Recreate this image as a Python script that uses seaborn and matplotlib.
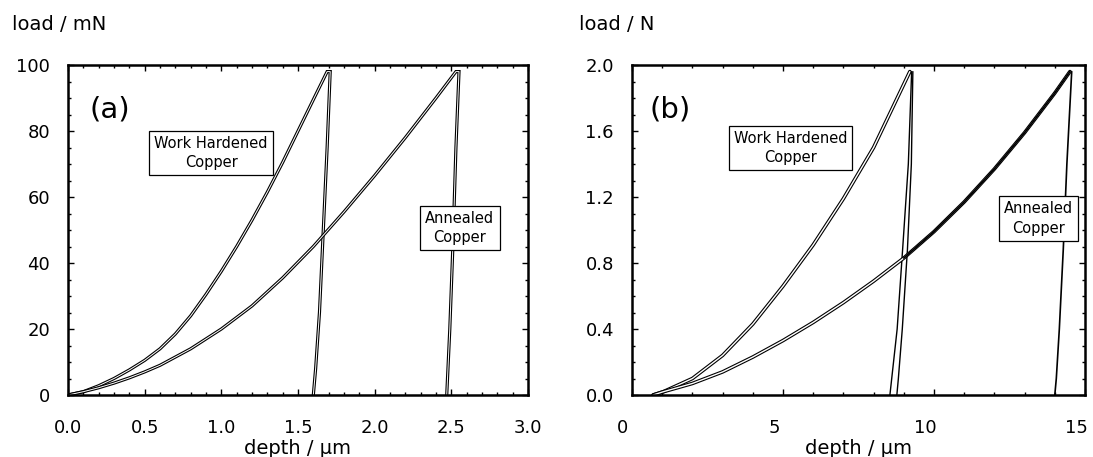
import matplotlib
matplotlib.use("Agg")
import matplotlib.pyplot as plt
import matplotlib.transforms as mtransforms
from matplotlib.ticker import MultipleLocator, FormatStrFormatter
import numpy as np
import pandas as pd
import seaborn as sns

# ---- data ----
# (a) micro indentation, load in mN, depth in um
wh_a_load_x = [0.0, 0.1, 0.2, 0.3, 0.4, 0.5, 0.6, 0.7, 0.8, 0.9, 1.0, 1.1, 1.2, 1.3, 1.4, 1.5, 1.6, 1.69]
wh_a_load_y = [0, 1.0, 2.8, 5.0, 7.6, 10.5, 14, 18.5, 24, 30.5, 37.5, 45, 53, 61.5, 70.5, 80, 89.5, 98]
wh_a_unload_x = [1.71, 1.69, 1.665, 1.64, 1.615, 1.60]
wh_a_unload_y = [98, 75, 50, 25, 8, 0]

an_a_load_x = [0.0, 0.1, 0.2, 0.3, 0.4, 0.5, 0.6, 0.8, 1.0, 1.2, 1.4, 1.6, 1.8, 2.0, 2.2, 2.4, 2.53]
an_a_load_y = [0, 1.0, 2.2, 3.6, 5.2, 7.0, 9.0, 14, 20, 27, 35.5, 45, 55.5, 66.5, 78, 90, 98]
an_a_unload_x = [2.55, 2.53, 2.51, 2.49, 2.475, 2.47]
an_a_unload_y = [98, 75, 45, 20, 5, 0]

# (b) macro indentation, load in N, depth in um
wh_b_load_x = [0.7, 1.04, 2.0, 3.0, 4.0, 5.0, 6.0, 7.0, 8.0, 9.2]
wh_b_load_y = [0, 0.02, 0.10, 0.24, 0.43, 0.66, 0.91, 1.19, 1.50, 1.96]
wh_b_unload1_x = [9.26, 9.15, 8.96, 8.78, 8.6, 8.54]
wh_b_unload1_y = [1.96, 1.4, 0.88, 0.4, 0.1, 0]
wh_b_unload2_x = [9.3, 9.25, 9.12, 8.95, 8.82, 8.77]
wh_b_unload2_y = [1.96, 1.4, 0.88, 0.4, 0.1, 0]

an_b_load_x = [0.7, 1.04, 2.0, 3.0, 4.0, 5.0, 6.0, 7.0, 8.0, 9.0, 10.0, 11.0, 12.0, 13.0, 14.0, 14.5]
an_b_load_y = [0, 0.02, 0.07, 0.14, 0.23, 0.33, 0.44, 0.56, 0.69, 0.83, 0.99, 1.17, 1.37, 1.59, 1.83, 1.96]
an_b_unload_x = [14.56, 14.4, 14.28, 14.15, 14.05, 14.0]
an_b_unload_y = [1.96, 1.4, 0.88, 0.4, 0.1, 0]

sns.set_style("ticks")
plt.rcParams['font.family'] = ['DejaVu Sans']
plt.rcParams['text.color'] = 'black'
plt.rcParams['axes.labelcolor'] = 'black'
plt.rcParams['xtick.color'] = 'black'
plt.rcParams['ytick.color'] = 'black'
plt.rcParams['axes.edgecolor'] = 'black'


def path_df(x, y):
    return pd.DataFrame({'depth': x, 'load': y, 'order': np.arange(len(x))})


def hollow(ax, x, y, outer=2.3, inner=0.7):
    # double-line look of the scanned curves
    df = path_df(x, y)
    sns.lineplot(data=df, x='depth', y='load', sort=False, estimator=None,
                 color='black', lw=outer, ax=ax, solid_joinstyle='miter')
    sns.lineplot(data=df, x='depth', y='load', sort=False, estimator=None,
                 color='white', lw=inner, ax=ax)


def solid(ax, x, y, lw=1.2):
    sns.lineplot(data=path_df(x, y), x='depth', y='load', sort=False,
                 estimator=None, color='black', lw=lw, ax=ax)


def style_axes(ax, xmaj, xmin, ymaj, ymin, xfmt, yfmt):
    for s in ax.spines.values():
        s.set_linewidth(1.8)
        s.set_visible(True)
        s.set_color('black')
    ax.xaxis.set_major_locator(MultipleLocator(xmaj))
    ax.xaxis.set_minor_locator(MultipleLocator(xmin))
    ax.yaxis.set_major_locator(MultipleLocator(ymaj))
    ax.yaxis.set_minor_locator(MultipleLocator(ymin))
    ax.xaxis.set_major_formatter(FormatStrFormatter(xfmt))
    ax.yaxis.set_major_formatter(FormatStrFormatter(yfmt))
    ax.tick_params(which='both', direction='in', top=True, right=True, width=1,
                   colors='black')
    ax.tick_params(which='major', length=4.5, labelsize=13)
    ax.tick_params(which='minor', length=2.5)
    ax.tick_params(axis='x', pad=17)
    ax.tick_params(axis='y', pad=13)
    ax.set_xlabel('depth / µm', fontsize=14, labelpad=2, color='black')
    ax.set_ylabel('')


fig = plt.figure(figsize=(10.93, 4.57), dpi=100)
ax1 = fig.add_axes([68 / 1093, 62 / 457, 460 / 1093, 330 / 457])
ax2 = fig.add_axes([632 / 1093, 62 / 457, 453 / 1093, 330 / 457])

box = dict(boxstyle='square,pad=0.35', fc='white', ec='black', lw=0.9)

# ---- (a) ----
hollow(ax1, wh_a_load_x + wh_a_unload_x, wh_a_load_y + wh_a_unload_y)
hollow(ax1, an_a_load_x + an_a_unload_x, an_a_load_y + an_a_unload_y)
ax1.set_xlim(0, 3)
ax1.set_ylim(0, 100)
style_axes(ax1, 0.5, 0.1, 20, 5, '%.1f', '%d')
ax1.text(0.09, 0.865, '(a)', transform=ax1.transAxes, fontsize=21,
         ha='center', va='center')
ax1.text(0.311, 0.734, 'Work Hardened\nCopper', transform=ax1.transAxes,
         fontsize=10.5, ha='center', va='center', linespacing=1.35, bbox=box)
ax1.text(0.852, 0.506, 'Annealed\nCopper', transform=ax1.transAxes,
         fontsize=10.5, ha='center', va='center', linespacing=1.35, bbox=box)

# ---- (b) ----
hollow(ax2, wh_b_load_x, wh_b_load_y, outer=2.6, inner=1.0)
solid(ax2, wh_b_unload1_x, wh_b_unload1_y, lw=1.0)
solid(ax2, wh_b_unload2_x, wh_b_unload2_y, lw=1.0)
hollow(ax2, an_b_load_x, an_b_load_y, outer=2.6, inner=1.0)
upper = [i for i, v in enumerate(an_b_load_x) if v >= 9.0]
solid(ax2, [an_b_load_x[i] for i in upper], [an_b_load_y[i] for i in upper], lw=1.3)
solid(ax2, an_b_unload_x, an_b_unload_y, lw=1.2)
ax2.set_xlim(0, 15)
ax2.set_ylim(0, 2.0)
style_axes(ax2, 5, 1, 0.4, 0.1, '%d', '%.1f')
ax2.text(0.085, 0.864, '(b)', transform=ax2.transAxes, fontsize=21,
         ha='center', va='center')
ax2.text(0.35, 0.749, 'Work Hardened\nCopper', transform=ax2.transAxes,
         fontsize=10.5, ha='center', va='center', linespacing=1.35, bbox=box)
ax2.text(0.898, 0.535, 'Annealed\nCopper', transform=ax2.transAxes,
         fontsize=10.5, ha='center', va='center', linespacing=1.35, bbox=box)

# the scan has the (b) depth labels sitting a little left of their ticks
shift = mtransforms.ScaledTranslation(-9 / 100, 0, fig.dpi_scale_trans)
for lab in ax2.get_xticklabels():
    lab.set_transform(lab.get_transform() + shift)

fig.text(12 / 1093, 1 - 25 / 457, 'load / mN', fontsize=14, va='center', ha='left')
fig.text(579 / 1093, 1 - 25 / 457, 'load / N', fontsize=14, va='center', ha='left')

fig.savefig('out.png', dpi=100)
